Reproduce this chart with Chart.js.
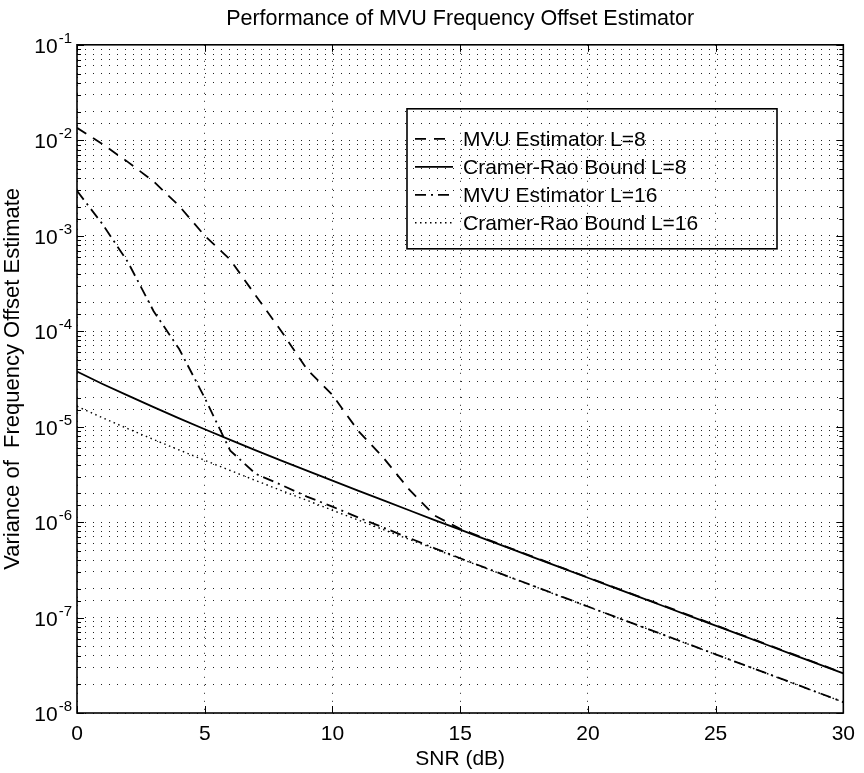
<!DOCTYPE html>
<html>
<head>
<meta charset="utf-8">
<script src="https://cdn.jsdelivr.net/npm/chart.js@4.4.0/dist/chart.umd.min.js"></script>
<style>
  html, body { margin: 0; padding: 0; background: #fff; }
  #wrap { position: relative; width: 864px; height: 773px; }
</style>
</head>
<body>
<div id="wrap"><canvas id="chart" width="864" height="773"></canvas></div>
<script>
// SNR in dB
const snr = [0, 1, 2, 3, 4, 5, 6, 7, 8, 9, 10, 11, 12, 13, 14, 15,
             16, 17, 18, 19, 20, 21, 22, 23, 24, 25, 26, 27, 28, 29, 30];

// variance of the frequency offset estimate
const mvu8 = [1.35e-2, 9.1e-3, 5.9e-3, 3.7e-3, 2.05e-3, 1.0e-3, 5.6e-4, 2.35e-4, 1.0e-4, 4.0e-5,
              2.15e-5, 9.1e-6, 4.7e-6, 2.2e-6, 1.17e-6, 8.5e-7, 6.68e-7, 5.28e-7, 4.19e-7, 3.31e-7,
              2.63e-7, 2.09e-7, 1.66e-7, 1.32e-7, 1.05e-7, 8.3e-8, 6.6e-8, 5.24e-8, 4.16e-8, 3.3e-8, 2.62e-8];
const crb8 = [3.77e-5, 2.80e-5, 2.11e-5, 1.60e-5, 1.22e-5, 9.39e-6, 7.27e-6, 5.65e-6, 4.41e-6, 3.46e-6,
              2.72e-6, 2.14e-6, 1.69e-6, 1.33e-6, 1.05e-6, 8.34e-7, 6.60e-7, 5.24e-7, 4.15e-7, 3.29e-7,
              2.61e-7, 2.07e-7, 1.645e-7, 1.305e-7, 1.037e-7, 8.23e-8, 6.54e-8, 5.19e-8, 4.12e-8, 3.27e-8, 2.60e-8];
const mvu16 = [2.95e-3, 1.32e-3, 5.25e-4, 1.62e-4, 6.5e-5, 2.0e-5, 5.6e-6, 3.2e-6, 2.45e-6, 1.85e-6,
               1.45e-6, 1.12e-6, 8.75e-7, 6.82e-7, 5.32e-7, 4.18e-7, 3.31e-7, 2.62e-7, 2.08e-7, 1.645e-7,
               1.305e-7, 1.035e-7, 8.22e-8, 6.53e-8, 5.19e-8, 4.12e-8, 3.27e-8, 2.61e-8, 2.07e-8, 1.64e-8, 1.30e-8];
const crb16 = [1.63e-5, 1.24e-5, 9.49e-6, 7.33e-6, 5.69e-6, 4.44e-6, 3.47e-6, 2.72e-6, 2.14e-6, 1.69e-6,
               1.33e-6, 1.053e-6, 8.33e-7, 6.60e-7, 5.23e-7, 4.14e-7, 3.29e-7, 2.61e-7, 2.07e-7, 1.635e-7,
               1.30e-7, 1.033e-7, 8.2e-8, 6.52e-8, 5.18e-8, 4.11e-8, 3.27e-8, 2.60e-8, 2.06e-8, 1.64e-8, 1.30e-8];

const seriesNames = ["MVU Estimator L=8", "Cramer-Rao Bound L=8", "MVU Estimator L=16", "Cramer-Rao Bound L=16"];
const xTicks = [0, 5, 10, 15, 20, 25, 30];
const yExponents = [-8, -7, -6, -5, -4, -3, -2, -1];

const FONT = '"Liberation Sans", Arial, sans-serif';

function line(label, values, dash, width) {
    return {
        label: label,
        data: snr.map((s, i) => ({ x: s, y: values[i] })),
        borderColor: "#000",
        backgroundColor: "#000",
        borderWidth: width,
        borderDash: dash,
        pointRadius: 0,
        tension: 0,
        fill: false,
    };
}

// box, inward ticks, 10^n labels and the legend (matlab look)
const matlabBits = {
    id: "matlabBits",
    afterDatasetsDraw(chart) {
        const { ctx, chartArea: a, scales } = chart;
        const x = scales.x, y = scales.y;
        ctx.save();
        ctx.setLineDash([]);
        ctx.strokeStyle = "#000";

        // ticks
        ctx.lineWidth = 1;
        ctx.beginPath();
        xTicks.forEach(v => {
            const px = Math.round(x.getPixelForValue(v)) + 0.5;
            ctx.moveTo(px, a.bottom); ctx.lineTo(px, a.bottom - 7);
            ctx.moveTo(px, a.top); ctx.lineTo(px, a.top + 7);
        });
        y.ticks.forEach(t => {
            const py = Math.round(y.getPixelForValue(t.value)) + 0.5;
            const lg = Math.log10(t.value);
            const len = Math.abs(lg - Math.round(lg)) < 1e-6 ? 7 : 4;
            ctx.moveTo(a.left, py); ctx.lineTo(a.left + len, py);
            ctx.moveTo(a.right, py); ctx.lineTo(a.right - len, py);
        });
        ctx.stroke();

        // frame
        ctx.lineWidth = 1.6;
        ctx.strokeRect(a.left, a.top, a.right - a.left, a.bottom - a.top);

        // y labels as 10^n
        ctx.fillStyle = "#000";
        ctx.textBaseline = "alphabetic";
        yExponents.forEach(e => {
            const py = y.getPixelForValue(Math.pow(10, e));
            const right = a.left - 5;
            ctx.font = "15px " + FONT;
            const ew = ctx.measureText(String(e)).width;
            ctx.textAlign = "left";
            ctx.fillText(String(e), right - ew, py - 2);
            ctx.font = "21px " + FONT;
            ctx.textAlign = "right";
            ctx.fillText("10", right - ew - 1, py + 8);
        });

        // legend
        const lx = a.left + 330, ly = a.top + 64, lw = 370, lh = 140;
        ctx.lineWidth = 1.6;
        ctx.strokeRect(lx, ly, lw, lh);
        ctx.font = "21px " + FONT;
        ctx.textAlign = "left";
        ctx.textBaseline = "middle";
        chart.data.datasets.forEach((ds, i) => {
            const ry = ly + 30 + i * 28;
            ctx.save();
            ctx.lineWidth = ds.borderWidth;
            ctx.setLineDash(ds.borderDash || []);
            ctx.beginPath();
            ctx.moveTo(lx + 8, ry);
            ctx.lineTo(lx + 46, ry);
            ctx.stroke();
            ctx.restore();
            ctx.fillText(ds.label, lx + 56, ry + 1);
        });
        ctx.restore();
    }
};

const context = document.getElementById("chart").getContext("2d");

new Chart(context, {
    type: "line",
    data: {
        datasets: [
            line(seriesNames[0], mvu8, [11, 8], 1.8),
            line(seriesNames[1], crb8, [], 1.8),
            line(seriesNames[2], mvu16, [11, 5, 2, 5], 1.8),
            line(seriesNames[3], crb16, [1.5, 3.5], 1.4),
        ],
    },
    options: {
        responsive: false,
        animation: false,
        devicePixelRatio: 1,
        layout: { padding: { left: 0, right: 13, top: 0, bottom: 0 } },
        plugins: {
            legend: { display: false },
            tooltip: { enabled: false },
            title: {
                display: true,
                fullSize: false,
                text: "Performance of MVU Frequency Offset Estimator",
                color: "#000",
                font: { family: FONT, size: 21.5, weight: "normal" },
                padding: { top: 6, bottom: 13 },
            },
        },
        scales: {
            x: {
                type: "linear",
                min: 0,
                max: 30,
                afterBuildTicks: s => { s.ticks = xTicks.map(v => ({ value: v })); },
                afterFit: s => { s.height = 60; },
                ticks: {
                    color: "#000",
                    font: { family: FONT, size: 21 },
                    padding: 9,
                    maxRotation: 0,
                    autoSkip: false,
                },
                grid: { color: "#222", lineWidth: 1, drawTicks: false },
                border: { display: false, dash: [1, 7] },
                title: {
                    display: true,
                    text: "SNR (dB)",
                    color: "#000",
                    font: { family: FONT, size: 21 },
                    padding: { top: 0, bottom: 1 },
                },
            },
            y: {
                type: "logarithmic",
                min: 1e-8,
                max: 1e-1,
                afterFit: s => { s.width = 77; },
                ticks: { display: false, autoSkip: false },
                grid: { color: "#222", lineWidth: 1, drawTicks: false },
                border: { display: false, dash: [1, 7] },
                title: {
                    display: true,
                    text: "Variance of  Frequency Offset Estimate",
                    color: "#000",
                    font: { family: FONT, size: 22 },
                    padding: { top: 0, bottom: 0 },
                },
            },
        },
    },
    plugins: [matlabBits],
});
</script>
</body>
</html>
